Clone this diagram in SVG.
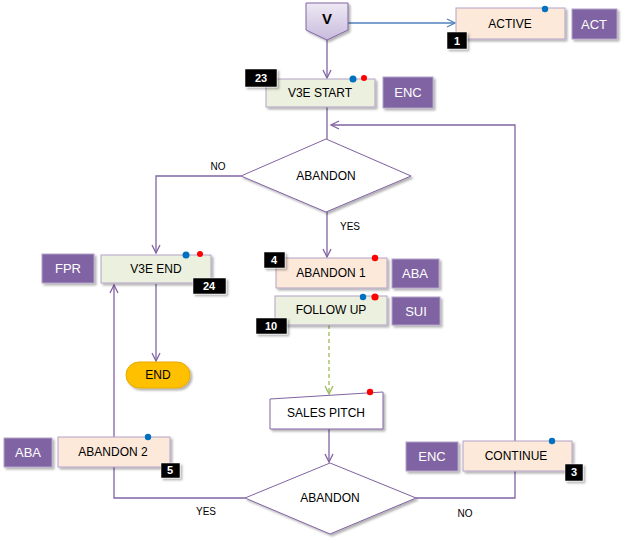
<svg xmlns="http://www.w3.org/2000/svg" width="626" height="543" viewBox="0 0 626 543">
<defs>
<linearGradient id="gv" x1="0" y1="0" x2="0" y2="1">
<stop offset="0" stop-color="#EEE9F4"/>
<stop offset="1" stop-color="#C9BBDD"/>
</linearGradient>
<filter id="sh" x="-20%" y="-20%" width="150%" height="160%">
<feDropShadow dx="2" dy="2" stdDeviation="1.2" flood-color="#000" flood-opacity="0.3"/>
</filter>
<marker id="ap" markerWidth="12" markerHeight="12" refX="9" refY="5" orient="auto" markerUnits="userSpaceOnUse">
<path d="M1,1 L9,5 L1,9" fill="none" stroke="#8064A2" stroke-width="1.3"/>
</marker>
<marker id="ab" markerWidth="12" markerHeight="12" refX="9" refY="5" orient="auto" markerUnits="userSpaceOnUse">
<path d="M1,1 L9,5 L1,9" fill="none" stroke="#4F81BD" stroke-width="1.3"/>
</marker>
<marker id="ag" markerWidth="12" markerHeight="12" refX="9" refY="5" orient="auto" markerUnits="userSpaceOnUse">
<path d="M1,1 L9,5 L1,9" fill="none" stroke="#9BBB59" stroke-width="1.3"/>
</marker>
</defs>
<style>
text{font-family:"Liberation Sans",Arial,sans-serif;font-size:12px;fill:#000;text-anchor:middle;dominant-baseline:central}
.peach{fill:#FDE9D9;stroke:#B3A2C7;stroke-width:1;filter:url(#sh)}
.green{fill:#EBF1DE;stroke:#B3A2C7;stroke-width:1;filter:url(#sh)}
.white{fill:#FFFFFF;stroke:#8064A2;stroke-width:1;filter:url(#sh)}
.tag{fill:#8064A2;stroke:#B3A2C7;stroke-width:1;filter:url(#sh)}
.tagt{fill:#FFFFFF;font-size:13px}
.badge{fill:#000;stroke:#fff;stroke-width:0.5;filter:url(#sh)}
.badget{fill:#FFFFFF;font-weight:bold;font-size:11px}
.bd{fill:#0070C0}
.rd{fill:#FF0000}
.lbl{font-size:10px}
.c{fill:none;stroke:#8064A2;stroke-width:1.3}
</style>
<g id="connectors">
<line class="c" x1="327" y1="40" x2="327" y2="78" marker-end="url(#ap)"/>
<line x1="348" y1="23" x2="455" y2="23" fill="none" stroke="#4F81BD" stroke-width="1.3" marker-end="url(#ab)"/>
<line class="c" x1="327" y1="107" x2="327" y2="139"/>
<polyline class="c" points="241,176 156,176 156,253" marker-end="url(#ap)"/>
<line class="c" x1="327" y1="212" x2="327" y2="257" marker-end="url(#ap)"/>
<line class="c" x1="156" y1="284" x2="156" y2="361" marker-end="url(#ap)"/>
<line x1="329" y1="325" x2="329" y2="394" fill="none" stroke="#9BBB59" stroke-width="1.3" stroke-dasharray="4,3" marker-end="url(#ag)"/>
<line class="c" x1="329" y1="429" x2="329" y2="462" marker-end="url(#ap)"/>
<polyline class="c" points="245,498 114,498 114,285" marker-end="url(#ap)"/>
<polyline class="c" points="416,498 515,498 515,125 331,125" marker-end="url(#ap)"/>
<text class="lbl" x="218" y="166">NO</text>
<text class="lbl" x="350" y="226">YES</text>
<text class="lbl" x="206" y="511">YES</text>
<text class="lbl" x="465" y="513">NO</text>
</g>
<g id="v">
<path d="M306,3 H348 V30 L327,40 L306,30 Z" fill="url(#gv)" stroke="#8064A2" stroke-width="1" filter="url(#sh)"/>
<text x="327" y="18" style="font-weight:bold;font-size:15px">V</text>
</g>
<g id="active">
<rect class="peach" x="456" y="8" width="109" height="31"/>
<text x="510" y="24">ACTIVE</text>
<circle class="bd" cx="545" cy="9" r="3.2"/>
<rect class="badge" x="447" y="32" width="20" height="17"/>
<text class="badget" x="457" y="41">1</text>
</g>
<g id="act">
<rect class="tag" x="572" y="9" width="45" height="30"/>
<text class="tagt" x="594" y="24">ACT</text>
</g>
<g id="v3e-start">
<rect class="green" x="266" y="79" width="109" height="28"/>
<text x="320" y="93">V3E START</text>
<circle class="bd" cx="353" cy="79" r="3.5"/>
<circle class="rd" cx="364" cy="78" r="3"/>
<rect class="badge" x="245" y="69" width="32" height="18"/>
<text class="badget" x="261" y="78">23</text>
</g>
<g id="enc-top">
<rect class="tag" x="383" y="77" width="50" height="31"/>
<text class="tagt" x="408" y="92">ENC</text>
</g>
<g id="abandon-d1">
<polygon class="white" points="326,139 411,176 326,212 241,176"/>
<text x="326" y="176">ABANDON</text>
</g>
<g id="v3e-end">
<rect class="green" x="101" y="255" width="110" height="28"/>
<text x="156" y="269">V3E END</text>
<circle class="bd" cx="186" cy="255" r="3.5"/>
<circle class="rd" cx="200" cy="254" r="3"/>
<rect class="badge" x="193" y="278" width="33" height="16"/>
<text class="badget" x="209" y="286">24</text>
</g>
<g id="fpr">
<rect class="tag" x="42" y="254" width="52" height="29"/>
<text class="tagt" x="68" y="268">FPR</text>
</g>
<g id="end">
<rect x="126" y="362" width="64" height="26" rx="13" ry="13" fill="#FFC000" stroke="#E6A800" stroke-width="1" filter="url(#sh)"/>
<text x="158" y="375">END</text>
</g>
<g id="abandon1">
<rect class="peach" x="276" y="258" width="111" height="30"/>
<text x="331" y="273">ABANDON 1</text>
<circle class="rd" cx="375" cy="258" r="3.2"/>
<rect class="badge" x="264" y="252" width="21" height="16"/>
<text class="badget" x="274" y="260">4</text>
</g>
<g id="aba-mid">
<rect class="tag" x="392" y="259" width="47" height="29"/>
<text class="tagt" x="415" y="273">ABA</text>
</g>
<g id="follow-up">
<rect class="green" x="275" y="296" width="112" height="29"/>
<text x="331" y="310">FOLLOW UP</text>
<circle class="bd" cx="363" cy="297" r="3.2"/>
<circle class="rd" cx="375" cy="297" r="3.6"/>
<rect class="badge" x="256" y="318" width="31" height="16"/>
<text class="badget" x="271" y="326">10</text>
</g>
<g id="sui">
<rect class="tag" x="392" y="297" width="48" height="28"/>
<text class="tagt" x="416" y="311">SUI</text>
</g>
<g id="sales-pitch">
<polygon class="white" points="270,399 383,392 383,429 270,429"/>
<text x="326" y="413">SALES PITCH</text>
<circle class="rd" cx="370" cy="392" r="3.2"/>
</g>
<g id="abandon-d2">
<polygon class="white" points="330,463 416,498 330,534 245,498"/>
<text x="330" y="498">ABANDON</text>
</g>
<g id="abandon2">
<rect class="peach" x="58" y="437" width="112" height="30"/>
<text x="113" y="452">ABANDON 2</text>
<circle class="bd" cx="148" cy="437" r="3.2"/>
<rect class="badge" x="161" y="463" width="19" height="15"/>
<text class="badget" x="170" y="470">5</text>
</g>
<g id="aba-left">
<rect class="tag" x="4" y="438" width="48" height="29"/>
<text class="tagt" x="28" y="452">ABA</text>
</g>
<g id="continue">
<rect class="peach" x="463" y="441" width="109" height="30"/>
<text x="516" y="456">CONTINUE</text>
<circle class="bd" cx="552" cy="441" r="3.2"/>
<rect class="badge" x="565" y="464" width="18" height="17"/>
<text class="badget" x="574" y="472">3</text>
</g>
<g id="enc-bottom">
<rect class="tag" x="406" y="442" width="52" height="29"/>
<text class="tagt" x="432" y="456">ENC</text>
</g>
</svg>
